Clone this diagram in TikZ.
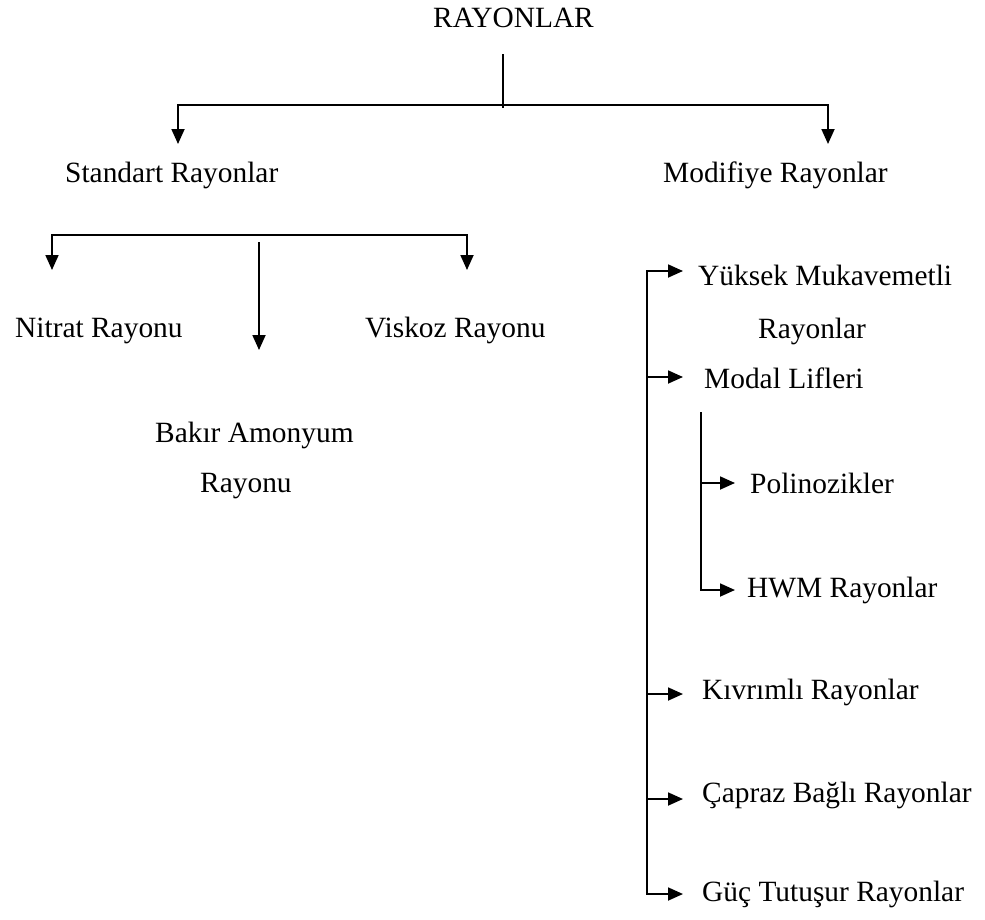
\documentclass[tikz,border=0pt]{standalone}
\usepackage{fontspec}
\setmainfont{Liberation Serif}
\usetikzlibrary{arrows.meta}
\begin{document}
\begin{tikzpicture}[x=1pt,y=-1pt,
  lbl/.style={inner sep=0pt,anchor=base west,font=\fontsize{29.4}{35}\selectfont},
  conn/.style={line width=1.8pt,line join=miter},
  arr/.style={conn,-{Triangle[length=15pt,width=13pt]}},
  arrs/.style={conn,{Triangle[length=15pt,width=13pt]}-{Triangle[length=15pt,width=13pt]}}]
\useasboundingbox (0,0) rectangle (985,919);

% labels
\node[lbl] (root)  at (433,27)  {RAYONLAR};
\node[lbl] (std)   at (65,182)  {Standart Rayonlar};
\node[lbl] (mod)   at (663,182) {Modifiye Rayonlar};
\node[lbl] (nit)   at (15,337)  {Nitrat Rayonu};
\node[lbl] (vis)   at (365,337) {Viskoz Rayonu};
\node[lbl] (bak)   at (155,442) {Bakır Amonyum};
\node[lbl] (bakb)  at (200,492) {Rayonu};
\node[lbl] (yuk)   at (698,285) {Yüksek Mukavemetli};
\node[lbl] (yukb)  at (758,338) {Rayonlar};
\node[lbl] (modal) at (704,388) {Modal Lifleri};
\node[lbl] (pol)   at (750,493) {Polinozikler};
\node[lbl] (hwm)   at (747,597) {HWM Rayonlar};
\node[lbl] (kiv)   at (702,699) {Kıvrımlı Rayonlar};
\node[lbl] (cap)   at (702,802) {Çapraz Bağlı Rayonlar};
\node[lbl] (guc)   at (702,901) {Güç Tutuşur Rayonlar};

% junction points
\coordinate (rootTop) at (503,54);
\coordinate (rootBot) at (503,108);
\coordinate (barL) at (178,105);
\coordinate (barR) at (828,105);
\coordinate (barMidL) at (467,105);
\coordinate (barMidR) at (575,105);
\coordinate (stdTip) at (178,144);
\coordinate (modTip) at (828,144);

\coordinate (sbarL) at (52,235);
\coordinate (sbarR) at (467,235);
\coordinate (nitTip) at (52,270);
\coordinate (visTip) at (467,270);
\coordinate (bakTop) at (259,242);
\coordinate (bakTip) at (259,350);

\coordinate (spineTop) at (647,271);
\coordinate (spineBot) at (647,894);
\coordinate (yukTip) at (683,271);
\coordinate (modalJ) at (647,377);
\coordinate (modalTip) at (683,377);
\coordinate (kivJ) at (647,694);
\coordinate (kivTip) at (683,694);
\coordinate (capJ) at (647,799);
\coordinate (capTip) at (683,799);
\coordinate (gucTip) at (683,894);

\coordinate (subTop) at (701,412);
\coordinate (subBot) at (701,590);
\coordinate (polJ) at (701,483);
\coordinate (polTip) at (735,483);
\coordinate (hwmTip) at (735,590);

% first level
\draw[conn] (rootTop) -- (rootBot);
\draw[arrs] (stdTip) -- (barL) -- (barR) -- (modTip);
\draw[line width=2.8pt] (barMidL) -- (barMidR);

% standard rayons
\draw[arrs] (nitTip) -- (sbarL) -- (sbarR) -- (visTip);
\draw[arr] (bakTop) -- (bakTip);

% modified rayons
\draw[conn] (spineTop) -- (spineBot);
\draw[arr] (modalJ) -- (spineTop) -- (yukTip);
\draw[arr] (modalJ) -- (modalTip);
\draw[arr] (kivJ) -- (kivTip);
\draw[arr] (capJ) -- (capTip);
\draw[arr] (capJ) -- (spineBot) -- (gucTip);

% modal sub-branch
\draw[conn] (subTop) -- (subBot);
\draw[arr] (polJ) -- (polTip);
\draw[arr] (polJ) -- (subBot) -- (hwmTip);
\end{tikzpicture}
\end{document}
